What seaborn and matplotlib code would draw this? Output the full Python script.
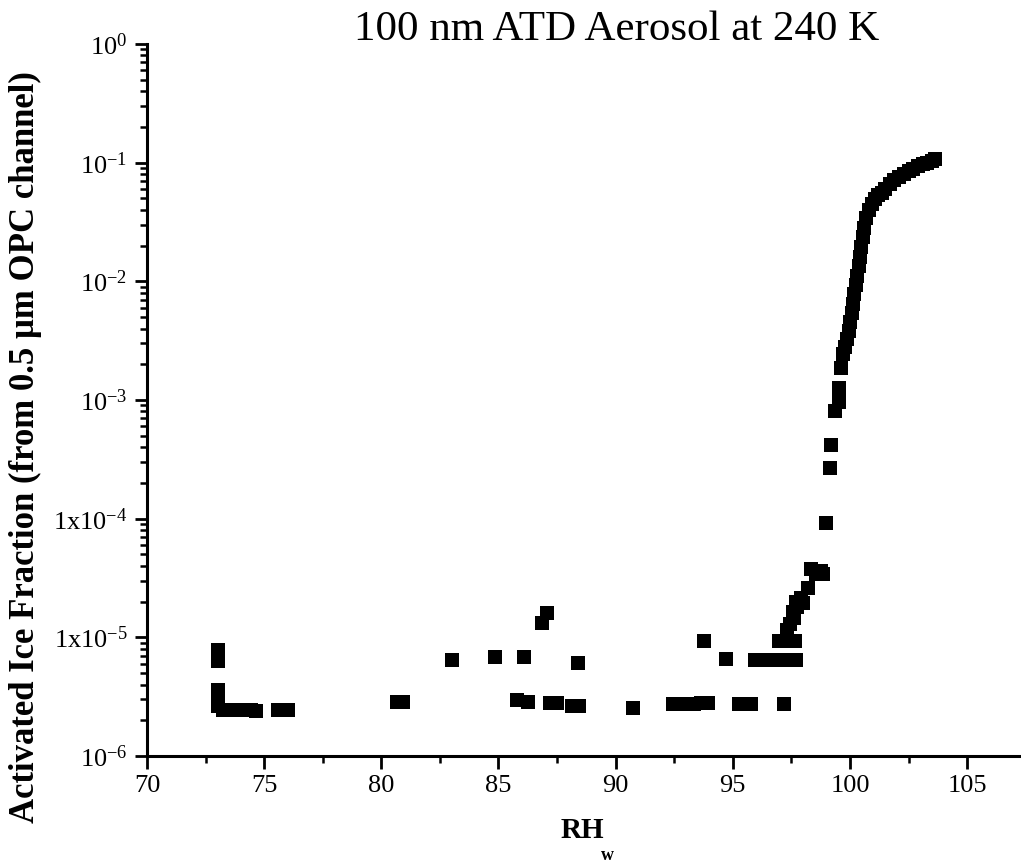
import numpy as np
import pandas as pd
import matplotlib
matplotlib.use("Agg")
import matplotlib.pyplot as plt
import matplotlib.ticker as mticker
import seaborn as sns

# ---- data ----
rh = [
    # 73 % column and low plateau
    73.05, 73.05, 73.05, 73.05, 73.05, 73.05,
    73.25, 73.45, 73.65, 73.85, 74.05, 74.25, 74.45, 74.65,
    75.6, 75.85, 76.0,
    80.66, 80.94,
    83.0, 84.86, 86.11, 86.85, 87.07, 88.38,
    85.8, 86.25, 87.2, 87.5, 88.15, 88.45,
    90.73,
    92.45, 92.75, 93.05, 93.35, 93.65, 93.93,
    93.76, 94.72,
    95.26, 95.5, 95.76, 97.2,
    95.95, 96.2, 96.45, 96.7, 96.95, 97.2, 97.45, 97.7,
    96.98, 97.2, 97.45, 97.65,
    97.3, 97.45, 97.6, 97.55, 97.75, 97.7, 97.9, 98.0, 98.2,
    98.35, 98.55, 98.75, 98.85,
    98.99, 99.13, 99.19, 99.36, 99.53, 99.53, 99.63,
    # steep rise and saturation
    99.72, 99.80, 99.87, 99.94, 100.0, 100.07, 100.13, 100.19, 100.25, 100.31,
    100.37, 100.43, 100.49, 100.55, 100.62, 100.70, 100.80, 100.92, 101.05, 101.2,
    101.35, 101.5, 101.7, 101.9, 102.1, 102.3, 102.5, 102.7, 102.9, 103.1,
    103.3, 103.5, 103.65,
]
frac = [
    7.8e-6, 6.3e-6, 3.6e-6, 3.25e-6, 2.95e-6, 2.65e-6,
    2.45e-6, 2.42e-6, 2.45e-6, 2.43e-6, 2.42e-6, 2.43e-6, 2.42e-6, 2.41e-6,
    2.42e-6, 2.43e-6, 2.43e-6,
    2.87e-6, 2.85e-6,
    6.5e-6, 6.85e-6, 6.8e-6, 1.31e-5, 1.61e-5, 6.1e-6,
    2.95e-6, 2.87e-6, 2.8e-6, 2.78e-6, 2.65e-6, 2.62e-6,
    2.55e-6,
    2.74e-6, 2.75e-6, 2.76e-6, 2.76e-6, 2.77e-6, 2.78e-6,
    9.4e-6, 6.6e-6,
    2.75e-6, 2.75e-6, 2.75e-6, 2.75e-6,
    6.5e-6, 6.5e-6, 6.5e-6, 6.5e-6, 6.5e-6, 6.5e-6, 6.5e-6, 6.4e-6,
    9.3e-6, 9.3e-6, 9.3e-6, 9.3e-6,
    1.15e-5, 1.3e-5, 1.45e-5, 1.65e-5, 1.8e-5, 2.0e-5, 2.15e-5, 1.95e-5, 2.6e-5,
    3.8e-5, 3.4e-5, 3.6e-5, 3.4e-5,
    9.25e-5, 2.69e-4, 4.17e-4, 8.07e-4, 9.7e-4, 1.26e-3, 1.85e-3,
    2.45e-3, 2.8e-3, 3.25e-3, 3.8e-3, 4.5e-3, 5.4e-3, 6.5e-3, 7.8e-3, 9.3e-3, 1.1e-2,
    1.35e-2, 1.6e-2, 1.95e-2, 2.35e-2, 2.8e-2, 3.4e-2, 4.0e-2, 4.5e-2, 4.9e-2, 5.3e-2,
    5.6e-2, 6.0e-2, 6.6e-2, 7.1e-2, 7.6e-2, 8.1e-2, 8.5e-2, 8.9e-2, 9.3e-2, 9.7e-2,
    0.100, 0.104, 0.107,
]

x_ticks = [70, 75, 80, 85, 90, 95, 100, 105]
y_ticks = [1e-6, 1e-5, 1e-4, 1e-3, 1e-2, 1e-1, 1e0]
y_tick_labels = [r"$10^{-6}$", r"$1\mathrm{x}10^{-5}$", r"$1\mathrm{x}10^{-4}$",
                 r"$10^{-3}$", r"$10^{-2}$", r"$10^{-1}$", r"$10^{0}$"]
title = "100 nm ATD Aerosol at 240 K"
y_label = "Activated Ice Fraction (from 0.5 \u03bcm OPC channel)"
x_label_main = "RH"
x_label_sub = "w"

df = pd.DataFrame({"RHw": rh, "AF": frac})

sns.set_style("ticks")
plt.rcParams["font.family"] = ["Liberation Serif", "DejaVu Serif"]
plt.rcParams["text.color"] = "black"
plt.rcParams["axes.labelcolor"] = "black"
plt.rcParams["mathtext.fontset"] = "custom"
plt.rcParams["mathtext.rm"] = "Liberation Serif"
plt.rcParams["mathtext.it"] = "Liberation Serif:italic"
plt.rcParams["mathtext.bf"] = "Liberation Serif:bold"

fig = plt.figure(figsize=(10.21, 8.67), dpi=100)
ax = fig.add_axes([147 / 1021, 1 - 756 / 867, (1021 - 147) / 1021, (756 - 44) / 867])

sns.scatterplot(data=df, x="RHw", y="AF", marker="s", s=100, color="black",
                edgecolor="black", linewidth=0, ax=ax, legend=False)

ax.set_yscale("log")
ax.set_ylim(1e-6, 1e0)
ax.set_xlim(70, 107.3)

ax.xaxis.set_major_locator(mticker.FixedLocator(x_ticks))
ax.xaxis.set_minor_locator(mticker.MultipleLocator(2.5))
ax.yaxis.set_major_locator(mticker.FixedLocator(y_ticks))
ax.yaxis.set_major_formatter(mticker.FixedFormatter(y_tick_labels))
ax.yaxis.set_minor_locator(mticker.LogLocator(base=10, subs=np.arange(2, 10), numticks=20))
ax.yaxis.set_minor_formatter(mticker.NullFormatter())

for s in ["top", "right"]:
    ax.spines[s].set_visible(False)
for s in ["left", "bottom"]:
    ax.spines[s].set_linewidth(2.2)
    ax.spines[s].set_color("black")

ax.tick_params(axis="both", which="major", direction="out", length=9, width=2,
               color="black", labelsize=19, labelcolor="black")
ax.tick_params(axis="both", which="minor", direction="out", length=5, width=1.8,
               color="black")
ax.tick_params(axis="x", pad=5)
ax.tick_params(axis="y", pad=5)

ax.set_xlabel("")
ax.set_ylabel("")
fig.text(582 / 1021, 1 - 831 / 867, x_label_main, fontsize=21, fontweight="bold",
         ha="center", va="center")
fig.text(607 / 1021, 1 - 856 / 867, x_label_sub, fontsize=13, fontweight="bold",
         ha="center", va="center")
fig.text(25 / 1021, 1 - 447 / 867, y_label, rotation=90, fontsize=25,
         fontweight="bold", ha="center", va="center")
fig.text(617 / 1021, 1 - 30 / 867, title, fontsize=31, ha="center", va="center")

fig.savefig("out.png", dpi=100)
